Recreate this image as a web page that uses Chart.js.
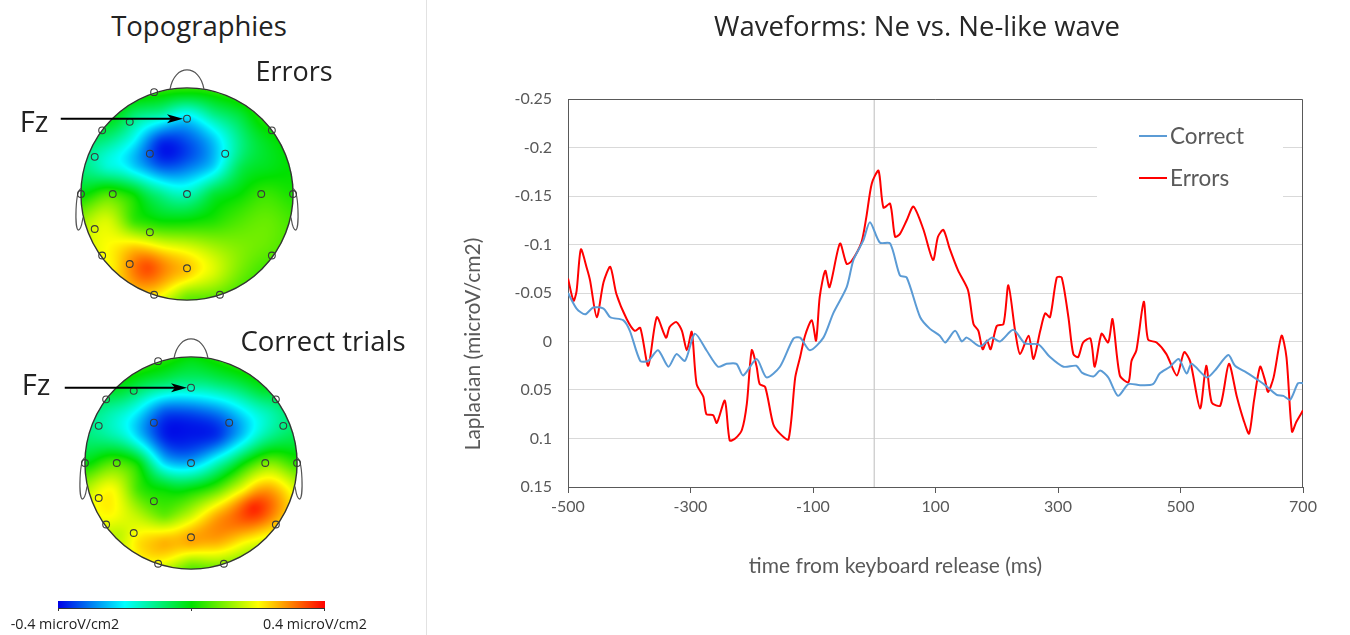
<!DOCTYPE html>
<html>
<head>
<meta charset="utf-8">
<script src="https://cdn.jsdelivr.net/npm/chart.js@4.4.1/dist/chart.umd.min.js"></script>
<style>
  body { margin: 0; width: 1350px; height: 635px; position: relative; background: #fff; overflow: hidden; font-family: 'Open Sans', sans-serif; color: #222; }
  .lbl { position: absolute; transform: translate(-50%, -50%); white-space: nowrap; z-index: 2; }
  .sep { position: absolute; left: 426px; top: 0; width: 1px; height: 635px; background: #e2e2e2; }
  canvas { position: absolute; }
  .cbar { position: absolute; left: 58px; top: 601px; width: 267px; height: 7px; border-bottom: 1px solid #333;
          background: linear-gradient(to right, rgb(0,0,230), rgb(0,255,255) 25%, rgb(0,225,0) 50%, rgb(255,255,0) 75%, rgb(255,0,0)); }
  .ctick { position: absolute; top: 608px; width: 1px; height: 3px; background: #333; }
</style>
</head>
<body>
<div class="sep"></div>

<div class="lbl" style="left:199px; top:25px; font-size:27.5px;">Topographies</div>
<div class="lbl" style="left:294px; top:70px; font-size:27px;">Errors</div>
<div class="lbl" style="left:323px; top:340px; font-size:27.5px;">Correct trials</div>
<div class="lbl" style="left:34px; top:120px; font-size:29px;">Fz</div>
<div class="lbl" style="left:36px; top:383px; font-size:29px;">Fz</div>

<canvas id="headErrors" width="286" height="286" style="left:44px; top:51px;"></canvas>
<canvas id="headCorrect" width="286" height="286" style="left:48px; top:320px;"></canvas>

<div class="cbar"></div>
<div class="ctick" style="left:58px;"></div>
<div class="ctick" style="left:191px;"></div>
<div class="ctick" style="left:324px;"></div>
<div class="lbl" style="left:65px; top:623px; font-size:14.3px;">-0.4 microV/cm2</div>
<div class="lbl" style="left:315px; top:623px; font-size:14.3px;">0.4 microV/cm2</div>

<div class="lbl" style="left:917px; top:25px; font-size:27.5px; color:#262626;">Waveforms: Ne vs. Ne-like wave</div>
<canvas id="waves" width="920" height="635" style="left:430px; top:0;"></canvas>

<script>
// ---- waveform data (ms, microV/cm2) ----
const xTicks = [-500, -300, -100, 100, 300, 500, 700];
const yTicks = [-0.25, -0.2, -0.15, -0.1, -0.05, 0, 0.05, 0.1, 0.15];

const correctTime = [-500, -486, -472, -459, -442, -431, -410, -399, -382, -369, -353, -336, -323, -309, -293, -274,
  -255, -241, -225, -214, -192, -176, -154, -132, -121, -105, -83, -67, -45, -34, -18, -7, 9, 26, 42, 53, 75, 91,
  107, 116, 132, 143, 151, 173, 192, 205, 227, 246, 268, 287, 309, 330, 339, 358, 369, 382, 398, 415, 434, 455,
  466, 483, 497, 510, 518, 543, 556, 578, 589, 608, 627, 638, 657, 668, 679, 692, 700];
const correctAmp = [-0.050, -0.034, -0.028, -0.035, -0.034, -0.025, -0.022, -0.011, 0.020, 0.020, 0.009, 0.026,
  0.013, 0.020, -0.008, 0.009, 0.026, 0.023, 0.023, 0.035, 0.018, 0.037, 0.026, -0.003, -0.004, 0.009, -0.004,
  -0.029, -0.056, -0.084, -0.104, -0.123, -0.102, -0.101, -0.068, -0.066, -0.025, -0.013, -0.006, 0.001, -0.011,
  0.000, -0.004, 0.005, -0.004, 0.000, -0.012, 0.002, 0.003, 0.016, 0.026, 0.025, 0.032, 0.036, 0.030, 0.037,
  0.056, 0.044, 0.045, 0.044, 0.033, 0.026, 0.018, 0.033, 0.023, 0.037, 0.030, 0.014, 0.025, 0.032, 0.040,
  0.045, 0.055, 0.056, 0.060, 0.043, 0.043];

const errorsTime = [-500, -491, -486, -479, -469, -464, -453, -442, -431, -421, -404, -391, -382, -369, -355, -340,
  -334, -323, -314, -306, -298, -290, -279, -274, -263, -257, -244, -236, -227, -216, -208, -200, -192, -187, -178,
  -165, -154, -140, -129, -121, -113, -102, -95, -89, -80, -73, -56, -45, -37, -21, -13, -4, 7, 15, 26, 34, 42,
  53, 64, 80, 96, 104, 113, 123, 137, 153, 162, 170, 177, 184, 190, 200, 211, 219, 230, 238, 252, 260, 271, 279,
  287, 298, 306, 317, 325, 333, 341, 353, 360, 371, 382, 389, 401, 415, 420, 428, 440, 447, 461, 477, 494, 506,
  516, 532, 542, 551, 565, 579, 592, 603, 612, 620, 630, 638, 643, 652, 665, 673, 682, 689, 700];
const errorsAmp = [-0.065, -0.042, -0.052, -0.095, -0.075, -0.063, -0.025, -0.061, -0.077, -0.049, -0.023, -0.011,
  -0.014, 0.025, -0.025, -0.004, -0.015, -0.020, -0.011, 0.009, -0.010, 0.044, 0.057, 0.075, 0.076, 0.084, 0.061,
  0.102, 0.100, 0.091, 0.064, 0.009, 0.026, 0.044, 0.047, 0.085, 0.095, 0.101, 0.037, 0.016, -0.006, -0.022,
  -0.001, -0.046, -0.073, -0.056, -0.101, -0.080, -0.083, -0.102, -0.128, -0.163, -0.176, -0.138, -0.142, -0.108,
  -0.111, -0.125, -0.139, -0.116, -0.084, -0.108, -0.115, -0.096, -0.073, -0.053, -0.018, -0.011, 0.008, -0.001,
  0.008, -0.016, -0.018, -0.058, -0.011, 0.013, -0.006, 0.018, -0.011, -0.029, -0.025, -0.066, -0.066, -0.025,
  0.013, 0.016, 0.001, -0.003, 0.026, -0.008, 0.001, -0.023, 0.035, 0.042, 0.020, 0.009, -0.041, -0.002, 0.001,
  0.013, 0.035, 0.011, 0.021, 0.069, 0.025, 0.063, 0.066, 0.023, 0.057, 0.081, 0.095, 0.061, 0.026, 0.040, 0.052,
  0.037, -0.006, 0.016, 0.093, 0.083, 0.071];

// ---- topography data (head radius = 1, nose up) ----
const elecX = [-0.31, 0, -0.54, -0.80, 0.80, -0.87, -0.35, 0.36, 0.87, -1, -0.70, 0, 0.70, 1, -0.87, -0.35, -0.80, 0.80, -0.54, 0, -0.31, 0.31];
const elecY = [0.96, 0.71, 0.68, 0.60, 0.60, 0.35, 0.38, 0.38, 0.35, 0, 0, 0, 0, 0, -0.33, -0.36, -0.58, -0.58, -0.66, -0.70, -0.95, -0.95];
const fzIndex = 1;

// places where the map colour was read (grid rows from front to back, then the rim)
const sampleX = [
  -0.5, -0.25, 0, 0.25, 0.5,
  -0.75, -0.5, -0.25, 0, 0.25, 0.5, 0.75,
  -0.75, -0.5, -0.25, 0, 0.25, 0.5, 0.75,
  -0.75, -0.5, -0.25, 0, 0.25, 0.5, 0.75,
  -0.75, -0.5, -0.25, 0, 0.25, 0.5, 0.75,
  -0.75, -0.5, -0.25, 0, 0.25, 0.5, 0.75,
  -0.5, -0.25, 0, 0.25, 0.5,
  0, -0.95, 0.95, 0, -0.67, 0.67, -0.67, 0.67];
const sampleY = [
  0.75, 0.75, 0.75, 0.75, 0.75,
  0.5, 0.5, 0.5, 0.5, 0.5, 0.5, 0.5,
  0.25, 0.25, 0.25, 0.25, 0.25, 0.25, 0.25,
  0, 0, 0, 0, 0, 0, 0,
  -0.25, -0.25, -0.25, -0.25, -0.25, -0.25, -0.25,
  -0.5, -0.5, -0.5, -0.5, -0.5, -0.5, -0.5,
  -0.75, -0.75, -0.75, -0.75, -0.75,
  0.95, 0, 0, -0.95, 0.67, 0.67, -0.67, -0.67];

const errorsMap = [
  -0.087, -0.127, -0.200, -0.107, -0.044,
  -0.107, -0.200, -0.357, -0.335, -0.245, -0.107, -0.022,
  -0.165, -0.231, -0.320, -0.303, -0.231, -0.065, -0.022,
  0.060, 0.000, -0.107, -0.147, -0.044, 0.000, 0.044,
  0.170, 0.040, 0.000, 0.000, 0.022, 0.060, 0.080,
  0.200, 0.240, 0.200, 0.170, 0.130, 0.100, 0.080,
  0.300, 0.300, 0.240, 0.170, 0.090,
  0.000, 0.000, 0.022, 0.100, -0.044, 0.000, 0.220, 0.065];
const correctMap = [
  -0.044, -0.087, -0.107, -0.087, -0.044,
  -0.127, -0.200, -0.320, -0.320, -0.282, -0.200, -0.127,
  -0.127, -0.231, -0.372, -0.379, -0.357, -0.231, -0.107,
  0.065, 0.000, -0.231, -0.259, -0.147, 0.000, 0.100,
  0.200, 0.050, 0.000, 0.000, 0.070, 0.200, 0.270,
  0.200, 0.150, 0.080, 0.160, 0.270, 0.340, 0.300,
  0.220, 0.260, 0.270, 0.260, 0.200,
  -0.022, 0.000, 0.044, 0.100, -0.044, -0.044, 0.150, 0.220];
// extremes of each map
const errorsPeakX = [-0.22, -0.37], errorsPeakY = [0.41, -0.69], errorsPeakVal = [-0.383, 0.340];
const correctPeakX = [-0.10, 0.59], correctPeakY = [0.27, -0.42], correctPeakVal = [-0.385, 0.370];

const colorRange = [-0.4, 0.4];
const cmapStops = [[0, 0, 0, 230], [0.25, 0, 255, 255], [0.5, 0, 225, 0], [0.75, 255, 255, 0], [1, 255, 0, 0]];

function cmap(v) {
    let t = (v - colorRange[0]) / (colorRange[1] - colorRange[0]);
    t = Math.max(0, Math.min(1, t));
    for (let i = 1; i < cmapStops.length; i++) {
        const a = cmapStops[i - 1], b = cmapStops[i];
        if (t <= b[0]) {
            const f = (t - a[0]) / (b[0] - a[0]);
            return [a[1] + f * (b[1] - a[1]), a[2] + f * (b[2] - a[2]), a[3] + f * (b[3] - a[3])];
        }
    }
    return cmapStops[cmapStops.length - 1].slice(1);
}

function solve(A, b) {
    const n = b.length;
    for (let c = 0; c < n; c++) {
        let p = c;
        for (let r = c + 1; r < n; r++) if (Math.abs(A[r][c]) > Math.abs(A[p][c])) p = r;
        [A[c], A[p]] = [A[p], A[c]];
        [b[c], b[p]] = [b[p], b[c]];
        for (let r = c + 1; r < n; r++) {
            const f = A[r][c] / A[c][c];
            for (let k = c; k < n; k++) A[r][k] -= f * A[c][k];
            b[r] -= f * b[c];
        }
    }
    const x = new Array(n).fill(0);
    for (let r = n - 1; r >= 0; r--) {
        let s = b[r];
        for (let k = r + 1; k < n; k++) s -= A[r][k] * x[k];
        x[r] = s / A[r][r];
    }
    return x;
}

const tpsK = r => (r < 1e-9 ? 0 : r * r * Math.log(r));

// thin plate spline through the read values
function fitSurface(px, py, vals) {
    const n = px.length, m = n + 3;
    const A = [], b = [];
    for (let i = 0; i < m; i++) { A.push(new Array(m).fill(0)); b.push(i < n ? vals[i] : 0); }
    for (let i = 0; i < n; i++) {
        for (let j = 0; j < n; j++) A[i][j] = tpsK(Math.hypot(px[i] - px[j], py[i] - py[j]));
        A[i][i] += 0.002;
        A[i][n] = A[n][i] = 1;
        A[i][n + 1] = A[n + 1][i] = px[i];
        A[i][n + 2] = A[n + 2][i] = py[i];
    }
    const w = solve(A, b);
    return (x, y) => {
        let s = w[n] + w[n + 1] * x + w[n + 2] * y;
        for (let i = 0; i < n; i++) s += w[i] * tpsK(Math.hypot(x - px[i], y - py[i]));
        return s;
    };
}

function makeHead(id, mapVals, peakX, peakY, peakVal, hidden) {
    const surface = fitSurface(sampleX.concat(peakX), sampleY.concat(peakY), mapVals.concat(peakVal));
    const headPlugin = {
        id: 'head',
        beforeDatasetsDraw(chart) {
            const {ctx, chartArea: a, scales: {x, y}} = chart;
            const w = Math.round(a.width), h = Math.round(a.height);
            const off = document.createElement('canvas');
            off.width = w; off.height = h;
            const octx = off.getContext('2d');
            const img = octx.createImageData(w, h);
            for (let j = 0; j < h; j++) {
                const vy = y.getValueForPixel(a.top + j + 0.5);
                for (let i = 0; i < w; i++) {
                    const vx = x.getValueForPixel(a.left + i + 0.5);
                    if (vx * vx + vy * vy > 1) continue;
                    const c = cmap(surface(vx, vy));
                    const k = (j * w + i) * 4;
                    img.data[k] = c[0]; img.data[k + 1] = c[1]; img.data[k + 2] = c[2]; img.data[k + 3] = 255;
                }
            }
            octx.putImageData(img, 0, 0);
            ctx.drawImage(off, a.left, a.top);

            const P = (u, v) => [x.getPixelForValue(u), y.getPixelForValue(v)];
            const [cx, cy] = P(0, 0);
            const r = x.getPixelForValue(1) - cx;
            ctx.save();
            ctx.strokeStyle = '#333';
            ctx.lineWidth = 1.4;
            ctx.beginPath();
            ctx.arc(cx, cy, r, 0, Math.PI * 2);
            ctx.stroke();
            // nose
            ctx.strokeStyle = '#555';
            ctx.lineWidth = 1.2;
            ctx.beginPath();
            ctx.moveTo(...P(-0.16, 0.987));
            ctx.bezierCurveTo(...P(-0.12, 1.23), ...P(0.12, 1.23), ...P(0.16, 0.987));
            ctx.stroke();
            // ears
            [-1, 1].forEach(s => {
                ctx.beginPath();
                ctx.moveTo(...P(s * 0.997, 0.05));
                ctx.bezierCurveTo(...P(s * 1.055, 0.04), ...P(s * 1.06, -0.33), ...P(s * 1.025, -0.34));
                ctx.bezierCurveTo(...P(s * 0.995, -0.34), ...P(s * 0.99, -0.27), ...P(s * 0.98, -0.22));
                ctx.stroke();
            });
            ctx.restore();
        },
        afterDatasetsDraw(chart) {
            const {ctx, scales: {x, y}} = chart;
            const tx = x.getPixelForValue(elecX[fzIndex]) - 4;
            const ty = y.getPixelForValue(elecY[fzIndex]);
            const sx = x.getPixelForValue(-1.19);
            ctx.save();
            ctx.strokeStyle = '#000';
            ctx.fillStyle = '#000';
            ctx.lineWidth = 2;
            ctx.beginPath();
            ctx.moveTo(sx, ty);
            ctx.lineTo(tx - 12, ty);
            ctx.stroke();
            ctx.beginPath();
            ctx.moveTo(tx, ty);
            ctx.lineTo(tx - 16, ty - 4.5);
            ctx.lineTo(tx - 12, ty);
            ctx.lineTo(tx - 16, ty + 4.5);
            ctx.closePath();
            ctx.fill();
            ctx.restore();
        }
    };
    return new Chart(document.getElementById(id), {
        type: 'scatter',
        data: {
            datasets: [{
                data: elecX.map((v, i) => ({x: v, y: elecY[i]})),
                pointRadius: c => (hidden.includes(c.dataIndex) ? 0 : 3.4),
                pointBorderWidth: 1.1,
                pointBorderColor: '#3a3a3a',
                pointBackgroundColor: 'rgba(0,0,0,0)'
            }]
        },
        options: {
            responsive: false,
            animation: false,
            layout: { padding: 0 },
            plugins: { legend: { display: false }, tooltip: { enabled: false } },
            scales: {
                x: { type: 'linear', min: -1.3, max: 1.3, display: false },
                y: { type: 'linear', min: -1.3, max: 1.3, display: false }
            }
        },
        plugins: [headPlugin]
    });
}

makeHead('headErrors', errorsMap, errorsPeakX, errorsPeakY, errorsPeakVal, [8]);
makeHead('headCorrect', correctMap, correctPeakX, correctPeakY, correctPeakVal, []);

// ---- waveform chart ----
const axisGray = '#595959';

const framePlugin = {
    id: 'frame',
    beforeDatasetsDraw(chart) {
        const {ctx, chartArea: a, scales: {x}} = chart;
        ctx.save();
        const x0 = x.getPixelForValue(0);
        ctx.strokeStyle = '#cccccc';
        ctx.lineWidth = 1.3;
        ctx.beginPath();
        ctx.moveTo(x0, a.top);
        ctx.lineTo(x0, a.bottom);
        ctx.stroke();
        // legend backdrop hides the grid
        ctx.fillStyle = '#fff';
        ctx.fillRect(a.right - 206, a.top + 13, 186, 88);
        ctx.strokeStyle = axisGray;
        ctx.lineWidth = 1;
        ctx.beginPath();
        ctx.moveTo(a.left, a.top + 0.5);
        ctx.lineTo(a.right - 0.5, a.top + 0.5);
        ctx.lineTo(a.right - 0.5, a.bottom);
        ctx.stroke();
        ctx.restore();
    },
    afterDatasetsDraw(chart) {
        const {ctx, chartArea: a} = chart;
        ctx.save();
        ctx.font = '22.5px Lato';
        ctx.textBaseline = 'middle';
        chart.data.datasets.forEach((ds, i) => {
            const yy = a.top + 37 + i * 42;
            ctx.strokeStyle = ds.borderColor;
            ctx.lineWidth = 2;
            ctx.beginPath();
            ctx.moveTo(a.right - 164, yy);
            ctx.lineTo(a.right - 136, yy);
            ctx.stroke();
            ctx.fillStyle = axisGray;
            ctx.fillText(ds.label, a.right - 133, yy + 1);
        });
        // axis titles
        ctx.font = '21px Lato';
        ctx.textAlign = 'center';
        ctx.fillText('time from keyboard release (ms)', (a.left + a.right) / 2 - 40, a.bottom + 79);
        ctx.translate(43, (a.top + a.bottom) / 2 + 51);
        ctx.rotate(-Math.PI / 2);
        ctx.fillText('Laplacian (microV/cm2)', 0, 0);
        ctx.restore();
    }
};

new Chart(document.getElementById('waves'), {
    type: 'line',
    data: {
        datasets: [
            {
                label: 'Correct',
                data: correctTime.map((t, i) => ({x: t, y: correctAmp[i]})),
                borderColor: '#5b9bd5',
                borderWidth: 2,
                pointRadius: 0,
                tension: 0.25
            },
            {
                label: 'Errors',
                data: errorsTime.map((t, i) => ({x: t, y: errorsAmp[i]})),
                borderColor: '#ff0000',
                borderWidth: 2,
                pointRadius: 0,
                tension: 0.25
            }
        ]
    },
    options: {
        responsive: false,
        animation: false,
        layout: { padding: { top: 99, right: 47, left: 0, bottom: 0 } },
        plugins: { legend: { display: false }, tooltip: { enabled: false } },
        scales: {
            x: {
                type: 'linear',
                min: xTicks[0],
                max: xTicks[xTicks.length - 1],
                afterBuildTicks: s => { s.ticks = xTicks.map(v => ({value: v})); },
                afterFit: s => { s.height = 148; },
                grid: { drawOnChartArea: false, drawTicks: true, tickLength: 6, color: axisGray },
                border: { display: true, color: axisGray },
                ticks: { color: axisGray, font: { family: 'Lato', size: 16 }, padding: 4, maxRotation: 0 }
            },
            y: {
                type: 'linear',
                reverse: true,
                min: yTicks[0],
                max: yTicks[yTicks.length - 1],
                afterBuildTicks: s => { s.ticks = yTicks.map(v => ({value: v})); },
                afterFit: s => { s.width = 138; },
                grid: { color: '#d9d9d9', drawTicks: false },
                border: { display: true, color: axisGray },
                ticks: {
                    color: axisGray,
                    font: { family: 'Lato', size: 16 },
                    padding: 16,
                    callback: v => String(Number(v.toFixed(2)))
                }
            }
        }
    },
    plugins: [framePlugin]
});
</script>
</body>
</html>
